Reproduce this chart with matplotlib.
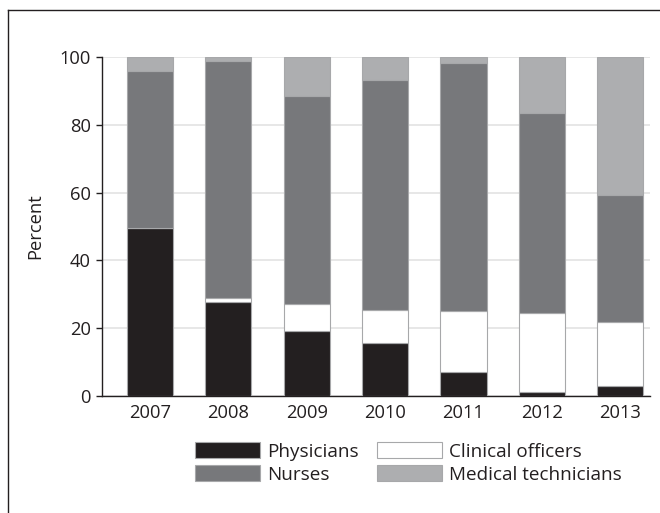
import matplotlib
matplotlib.use("Agg")
import matplotlib.pyplot as plt
from matplotlib.lines import Line2D
import numpy as np

years = ["2007", "2008", "2009", "2010", "2011", "2012", "2013"]
physicians = [49.7, 27.8, 19.2, 15.7, 7.2, 1.3, 3.0]
clinical_officers = [0.0, 1.2, 7.8, 9.8, 18.0, 23.3, 18.7]
nurses = [46.1, 69.7, 61.5, 67.7, 73.1, 58.8, 37.5]
medical_technicians = [4.2, 1.3, 11.5, 6.8, 1.7, 16.6, 40.8]

plt.rcParams["font.family"] = ["Open Sans", "DejaVu Sans"]
text_color = "#231f20"
fs = 13.2

fig = plt.figure(figsize=(6.6, 5.13), dpi=100)
ax = fig.add_axes([0.1545, 0.228, 0.8305, 0.661])

x = np.arange(len(years))
width = 0.59
series = [
    ("Physicians", physicians, "#231f20"),
    ("Clinical officers", clinical_officers, "#ffffff"),
    ("Nurses", nurses, "#77787b"),
    ("Medical technicians", medical_technicians, "#adaeb0"),
]
bottom = np.zeros(len(years))
handles = {}
for name, vals, color in series:
    bars = ax.bar(x, vals, width, bottom=bottom, color=color,
                  edgecolor="#a7a8aa", linewidth=0.8, zorder=3, label=name)
    handles[name] = bars
    bottom += np.array(vals)

ax.set_xlim(-0.61, 6.38)
ax.set_ylim(0, 100)
ax.set_yticks([0, 20, 40, 60, 80, 100])
ax.set_xticks(x)
ax.set_xticklabels(years)
ax.grid(axis="y", color="#e3e3e3", linewidth=1.2, zorder=0)
ax.set_axisbelow(True)

for side in ["top", "right"]:
    ax.spines[side].set_visible(False)
for side in ["left", "bottom"]:
    ax.spines[side].set_color(text_color)
    ax.spines[side].set_linewidth(1.0)

ax.tick_params(axis="y", direction="out", length=4, width=1.0, color=text_color,
               labelsize=fs, labelcolor=text_color, pad=4)
ax.tick_params(axis="x", length=0, labelsize=fs, labelcolor=text_color, pad=6)
ax.set_ylabel("Percent", fontsize=fs, color=text_color, labelpad=11)

order = ["Physicians", "Nurses", "Clinical officers", "Medical technicians"]
ax.legend([handles[n] for n in order], order, ncol=2, frameon=False,
          loc="upper left", bbox_to_anchor=(0.138, -0.086),
          handlelength=3.45, handleheight=0.9, handletextpad=0.4,
          columnspacing=0.94, labelspacing=0.26, fontsize=13.6,
          labelcolor=text_color, borderpad=0.4)

# frame around figure (top and left edges)
fig.add_artist(Line2D([8 / 660, 8 / 660], [0, 1 - 9.5 / 513], color="#231f20", linewidth=1.0))
fig.add_artist(Line2D([8 / 660, 1], [1 - 9.5 / 513, 1 - 9.5 / 513], color="#231f20", linewidth=1.0))

fig.savefig("out.png", dpi=100)
